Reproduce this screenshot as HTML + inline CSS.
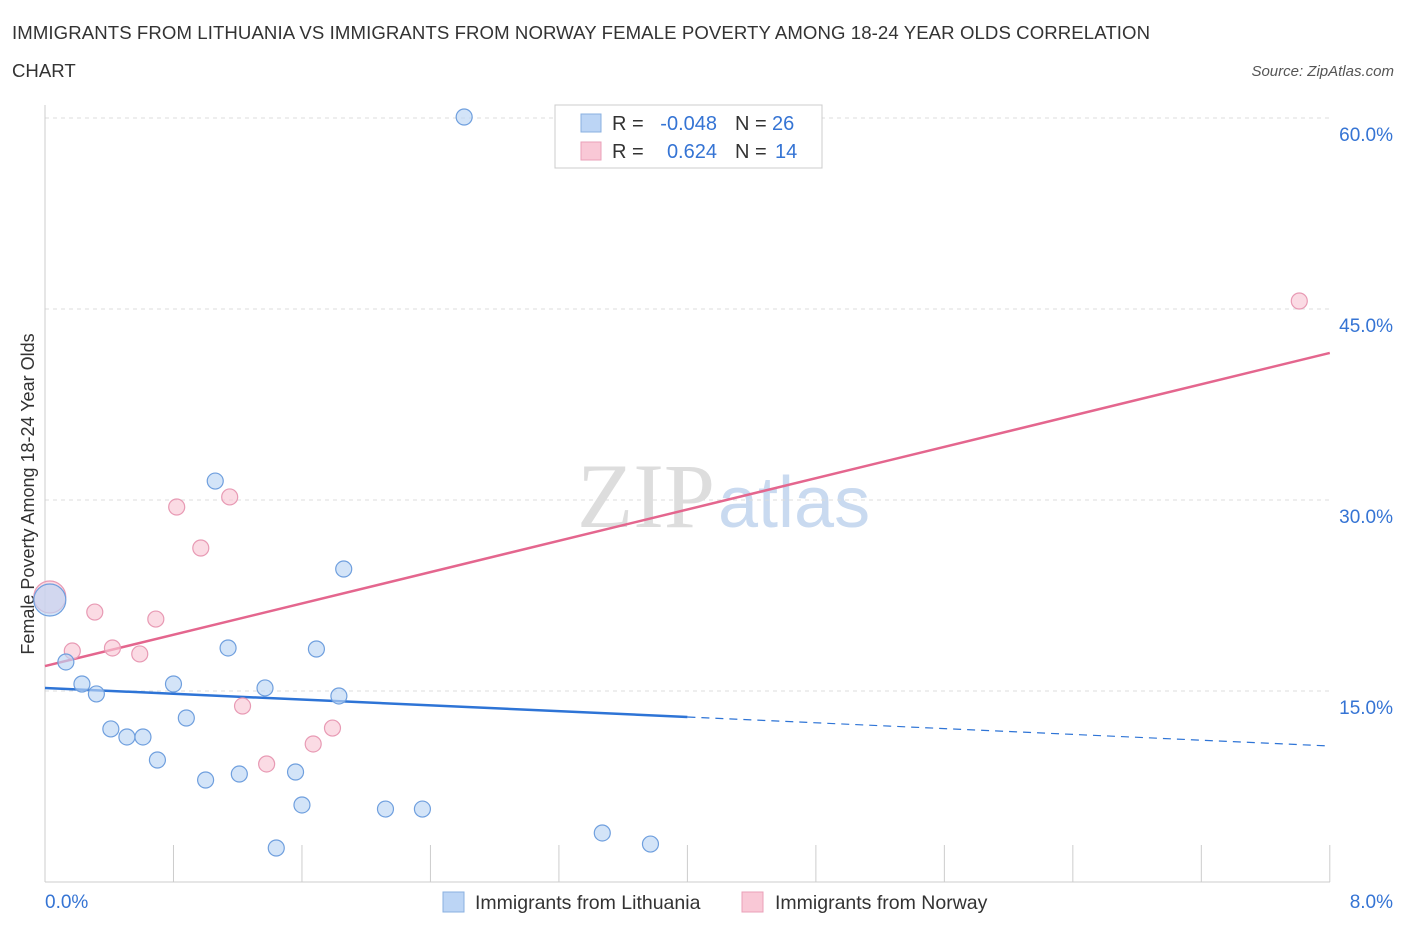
<!DOCTYPE html>
<html><head><meta charset="utf-8"><style>
body{margin:0;background:#fff;font-family:"Liberation Sans",sans-serif;}
</style></head><body>
<svg id="c" width="1406" height="930" xmlns="http://www.w3.org/2000/svg">
<text x="12" y="39" font-size="18.6" fill="#333" textLength="1138">IMMIGRANTS FROM LITHUANIA VS IMMIGRANTS FROM NORWAY FEMALE POVERTY AMONG 18-24 YEAR OLDS CORRELATION</text>
<text x="12" y="77" font-size="18.6" fill="#333">CHART</text>
<text x="1394" y="76" font-size="15" fill="#555" font-style="italic" text-anchor="end">Source: ZipAtlas.com</text>
<text x="715" y="527" font-size="92" fill="#ddd" font-family="Liberation Serif" text-anchor="end">ZIP</text>
<text x="718" y="527" font-size="72" fill="#c9daf0" text-anchor="start">atlas</text>
<text transform="translate(34,494) rotate(-90)" font-size="18" fill="#333" text-anchor="middle">Female Poverty Among 18-24 Year Olds</text>
<g id="grid"></g><g id="marks"></g>
<g>
<rect x="555" y="105" width="267" height="63" fill="#fff" stroke="#ccc"/>
<rect x="581" y="114" width="20" height="18" fill="#bcd5f5" stroke="#8ab0e0"/>
<rect x="581" y="142" width="20" height="18" fill="#f9c8d6" stroke="#eaa0b8"/>
<text x="612" y="130" font-size="20" fill="#333">R =</text>
<text x="717" y="130" font-size="20" fill="#3574d4" text-anchor="end">-0.048</text>
<text x="735" y="130" font-size="20" fill="#333">N =</text>
<text x="772" y="130" font-size="20" fill="#3574d4">26</text>
<text x="612" y="158" font-size="20" fill="#333">R =</text>
<text x="717" y="158" font-size="20" fill="#3574d4" text-anchor="end">0.624</text>
<text x="735" y="158" font-size="20" fill="#333">N =</text>
<text x="775" y="158" font-size="20" fill="#3574d4">14</text>
</g>
<g>
<rect x="443" y="892" width="21" height="20" fill="#bcd5f5" stroke="#8ab0e0"/>
<text x="475" y="909" font-size="19.5" fill="#333">Immigrants from Lithuania</text>
<rect x="742" y="892" width="21" height="20" fill="#f9c8d6" stroke="#eaa0b8"/>
<text x="775" y="909" font-size="19.5" fill="#333">Immigrants from Norway</text>
</g>
</svg>
<script>
const yTicks=[15,30,45,60];
const xTickLabels=["0.0%","8.0%"];
const blueX=[0.13,0.23,0.32,0.41,0.51,0.61,0.70,0.80,0.88,1.00,1.06,1.14,1.21,1.37,1.44,1.56,1.60,1.69,1.83,1.86,2.12,2.35,2.61,3.47,3.77,0.03];
const blueY=[17.28,15.55,14.77,12.02,11.39,11.39,9.58,15.55,12.88,8.01,31.49,18.38,8.48,15.24,2.67,8.64,6.05,18.30,14.61,24.58,5.73,5.73,60.08,3.85,2.98,22.15];
const pinkX=[0.03,0.17,0.31,0.42,0.59,0.69,0.82,0.97,1.15,1.23,1.38,1.67,1.79,7.81];
const pinkY=[22.38,18.14,21.20,18.38,17.91,20.65,29.45,26.23,30.24,13.82,9.27,10.84,12.09,45.63];
const blueTrend=[15.24,10.68];
const pinkTrend=[16.96,41.55];
const X=v=>45+v*160.6, Y=v=>882-v*12.733;
const NS="http://www.w3.org/2000/svg";
function mk(tag,attrs,parent){const e=document.createElementNS(NS,tag);for(const k in attrs)e.setAttribute(k,attrs[k]);parent.appendChild(e);return e;}
const g=document.getElementById('grid'), m=document.getElementById('marks');
yTicks.forEach(t=>{
 const l=mk('line',{x1:45,x2:1330,y1:Y(t),y2:Y(t),stroke:'#ddd','stroke-dasharray':'4,4'},g);
 
 
 const tx=mk('text',{x:1393,y:Y(t)+23,'font-size':19,fill:'#3574d4','text-anchor':'end'},g);
 tx.textContent=t.toFixed(1)+'%';
 
 
});
const ax=mk('line',{x1:45,x2:45,y1:105,y2:882,stroke:'#ccc'},g);


const bx=mk('line',{x1:45,x2:1330,y1:882,y2:882,stroke:'#ccc'},g);


for(let i=0;i<=10;i++){const t=mk('line',{x1:X(i*0.8),x2:X(i*0.8),y1:845,y2:882,stroke:'#ccc'},g);
 
 }
[[0,'start',45],[1,'end',1393]].forEach(([i,a,x])=>{const t=mk('text',{x:x,y:908,'font-size':19,fill:'#3574d4','text-anchor':a},g);t.textContent=xTickLabels[i];
 
 });
const bs=mk('line',{x1:X(0),y1:Y(blueTrend[0]),x2:X(4),y2:Y((blueTrend[0]+blueTrend[1])/2),stroke:'#2e74d6','stroke-width':2.5},m);


const bd=mk('line',{x1:X(4),y1:Y((blueTrend[0]+blueTrend[1])/2),x2:X(8),y2:Y(blueTrend[1]),stroke:'#2e74d6','stroke-width':1.2,'stroke-dasharray':'8,6'},m);


const pl=mk('line',{x1:X(0),y1:Y(pinkTrend[0]),x2:X(8),y2:Y(pinkTrend[1]),stroke:'#e4668e','stroke-width':2.5},m);


function pts(xs,ys,fill,stroke,name){xs.forEach((x,i)=>{
 const big=(x<0.05);
 const c=mk('circle',{cx:X(x),cy:Y(ys[i]),r:big?16:8,fill:fill,'fill-opacity':0.65,stroke:stroke,'stroke-width':1.2},m);
 
 
});}
pts(pinkX,pinkY,'#f9c8d6','#e89ab4','norway-point');
pts(blueX,blueY,'#bcd5f5','#6f9fde','lithuania-point');
</script>
</body></html>
